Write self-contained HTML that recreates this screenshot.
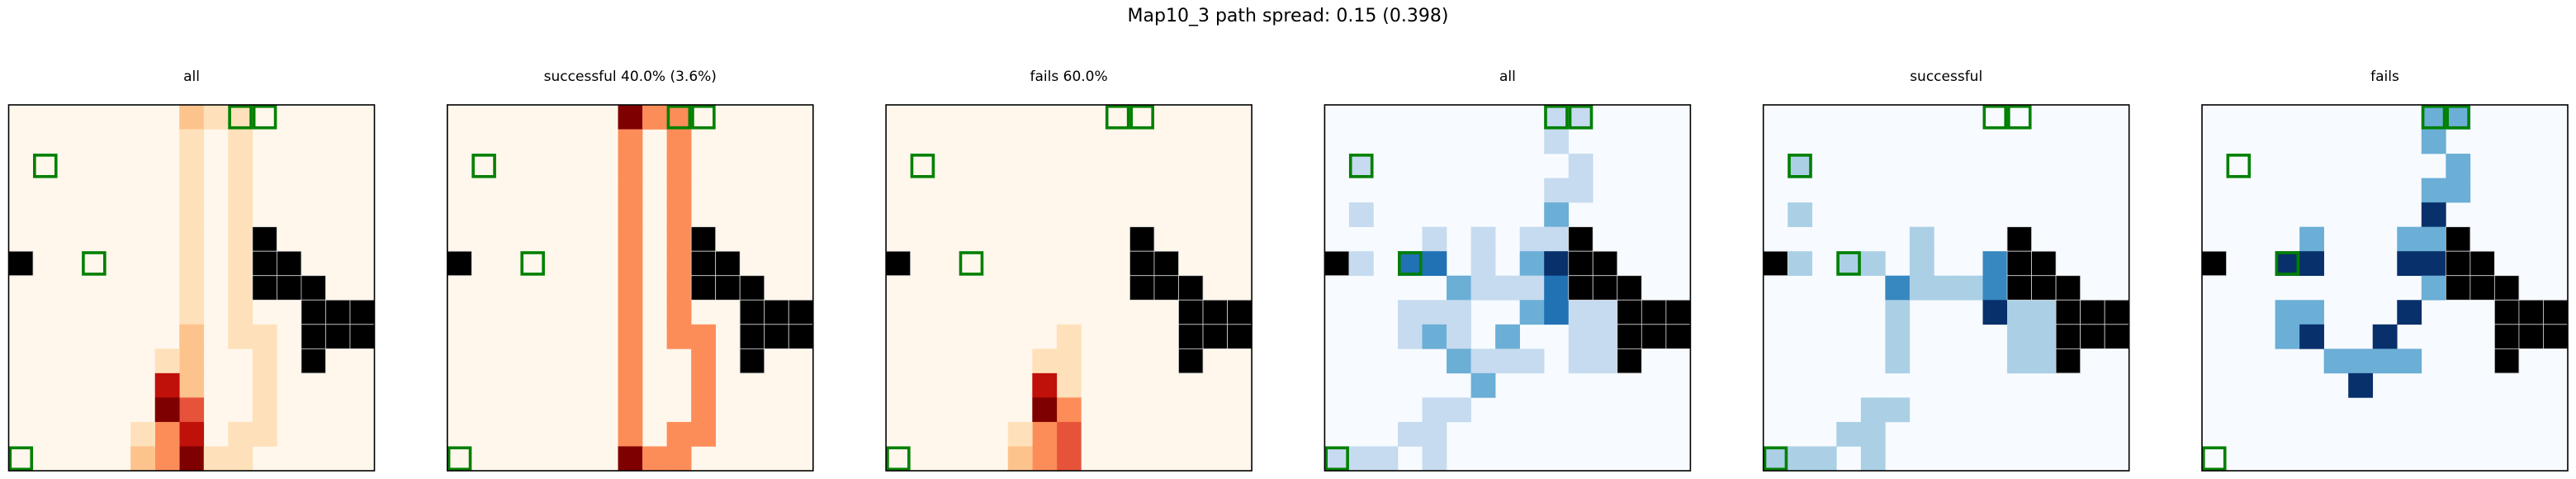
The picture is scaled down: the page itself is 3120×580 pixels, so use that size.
<!DOCTYPE html>
<html><head><meta charset="utf-8"><style>
html,body{margin:0;padding:0;background:#fff;}
svg{display:block;font-family:"DejaVu Sans","Liberation Sans",sans-serif;}
</style></head><body>
<svg id="fig" width="3120" height="580" viewBox="0 0 3120 580">
<text x="1560" y="26" text-anchor="middle" font-size="22" fill="#000">Map10_3 path spread: 0.15 (0.398)</text>
</svg>
<script>
// ---- data ----
const panelTitles = ["all", "successful 40.0% (3.6%)", "fails 60.0%", "all", "successful", "fails"];
const panelCmaps = ["OrRd", "OrRd", "OrRd", "Blues", "Blues", "Blues"];
// sparse visit counts: [row, col, count]
const allOrange = [[0,7,2],[0,8,1],[0,9,1],[1,7,1],[2,7,1],[3,7,1],[4,7,1],[5,7,1],[6,7,1],[7,7,1],[8,7,1],[9,7,2],[10,7,2],[11,7,2],[12,7,4],[13,7,5],[14,7,6],
 [14,8,1],[1,9,1],[2,9,1],[3,9,1],[4,9,1],[5,9,1],[6,9,1],[7,9,1],[8,9,1],[9,9,1],[13,9,1],[14,9,1],
 [9,10,1],[10,10,1],[11,10,1],[12,10,1],[13,10,1],
 [10,6,1],[11,6,5],[12,6,6],[13,6,3],[14,6,3],[13,5,1],[14,5,2]];
const succOrange = [[0,7,2],[0,8,1],[0,9,1],[1,7,1],[2,7,1],[3,7,1],[4,7,1],[5,7,1],[6,7,1],[7,7,1],[8,7,1],[9,7,1],[10,7,1],[11,7,1],[12,7,1],[13,7,1],[14,7,2],
 [14,8,1],[1,9,1],[2,9,1],[3,9,1],[4,9,1],[5,9,1],[6,9,1],[7,9,1],[8,9,1],[9,9,1],[13,9,1],[14,9,1],
 [9,10,1],[10,10,1],[11,10,1],[12,10,1],[13,10,1]];
const failOrange = [[9,7,1],[10,7,1],[11,7,1],[12,7,3],[13,7,4],[14,7,4],[10,6,1],[11,6,5],[12,6,6],[13,6,3],[14,6,3],[13,5,1],[14,5,2]];
const allBlue = [[0,9,1],[0,10,1],[1,9,1],[2,1,1],[2,10,1],[3,9,1],[3,10,1],[4,1,1],[4,9,2],
 [5,4,1],[5,6,1],[5,8,1],[5,9,1],[6,1,1],[6,3,3],[6,4,3],[6,6,1],[6,8,2],[6,9,4],
 [7,5,2],[7,6,1],[7,7,1],[7,8,1],[7,9,3],[8,3,1],[8,4,1],[8,5,1],[8,8,2],[8,9,3],[8,10,1],[8,11,1],
 [9,3,1],[9,4,2],[9,5,1],[9,7,2],[9,10,1],[9,11,1],[10,5,2],[10,6,1],[10,7,1],[10,8,1],[10,10,1],[10,11,1],
 [11,6,2],[12,4,1],[12,5,1],[13,3,1],[13,4,1],[14,0,1],[14,1,1],[14,2,1],[14,4,1]];
const succBlue = [[2,1,1],[4,1,1],[5,6,1],[6,1,1],[6,3,1],[6,4,1],[6,6,1],[6,9,2],
 [7,5,2],[7,6,1],[7,7,1],[7,8,1],[7,9,2],[8,5,1],[8,9,3],[8,10,1],[8,11,1],
 [9,5,1],[9,10,1],[9,11,1],[10,5,1],[10,10,1],[10,11,1],[12,4,1],[12,5,1],[13,3,1],[13,4,1],[14,0,1],[14,1,1],[14,2,1],[14,4,1]];
const failBlue = [[0,9,1],[0,10,1],[1,9,1],[2,10,1],[3,9,1],[3,10,1],[4,9,2],[5,4,1],[5,8,1],[5,9,1],
 [6,3,2],[6,4,2],[6,8,2],[6,9,2],[7,9,1],[8,3,1],[8,4,1],[8,8,2],[9,3,1],[9,4,2],[9,7,2],
 [10,5,1],[10,6,1],[10,7,1],[10,8,1],[11,6,2]];
const panelMax = [6, 2, 6, 4, 3, 2];
const obstacles = [[5,10],[6,0],[6,10],[6,11],[7,10],[7,11],[7,12],[8,12],[8,13],[8,14],[9,12],[9,13],[9,14],[10,12]];
const goals = [[0,9],[0,10],[2,1],[6,3],[14,0]];
const panelData = [allOrange, succOrange, failOrange, allBlue, succBlue, failBlue];

// ---- rendering ----
const NS = "http://www.w3.org/2000/svg";
const svg = document.getElementById("fig");
const N = 15, AX_W = 443, AX_TOP = 127, STEP = 531.3, LEFT0 = 10.5;
const CELL = AX_W / N;
const stops = {
  OrRd: ["#fff7ec","#fee8c8","#fdd49e","#fdbb84","#fc8d59","#ef6548","#d7301f","#b30000","#7f0000"],
  Blues: ["#f7fbff","#deebf7","#c6dbef","#9ecae1","#6baed6","#4292c6","#2171b5","#08519c","#08306b"]
};
function hex(c){return [1,3,5].map(i=>parseInt(c.substr(i,2),16));}
function cmap(name, t){
  const s = stops[name]; t = Math.max(0, Math.min(1, t));
  const p = t * (s.length - 1), i = Math.min(Math.floor(p), s.length - 2), f = p - i;
  const a = hex(s[i]), b = hex(s[i+1]);
  return "rgb(" + a.map((v,k)=>Math.round(v + (b[k]-v)*f)).join(",") + ")";
}
function mk(tag, attrs, parent){
  const e = document.createElementNS(NS, tag);
  for (const k in attrs) e.setAttribute(k, attrs[k]);
  parent.appendChild(e); return e;
}
const xs = (p, c) => LEFT0 + p * STEP + c * CELL;
const ys = r => AX_TOP + r * CELL;

for (let p = 0; p < 6; p++) {
  const g = mk("g", {}, svg);
  
  
  const t = mk("text", {x: xs(p, 7.5), y: 98, "text-anchor": "middle", "font-size": 17, fill: "#000"}, g);
  t.textContent = panelTitles[p];
  
  
  const bg = mk("rect", {x: xs(p, 0), y: ys(0), width: AX_W, height: AX_W, fill: cmap(panelCmaps[p], 0)}, g);
  
  
  for (const [r, c, v] of panelData[p]) {
    const cell = mk("rect", {x: xs(p, c), y: ys(r), width: CELL + 0.3, height: CELL + 0.3, fill: cmap(panelCmaps[p], v / panelMax[p])}, g);
    
    
  }
  for (const [r, c] of obstacles) {
    const o = mk("rect", {x: xs(p, c), y: ys(r), width: CELL, height: CELL, fill: "#000", stroke: "#d4d4d4", "stroke-width": 0.8}, g);
    
    
  }
  for (const [r, c] of goals) {
    const gb = mk("rect", {x: xs(p, c) + 1.8, y: ys(r) + 1.8, width: CELL - 3.6, height: CELL - 3.6, fill: "none", stroke: "#008000", "stroke-width": 3.6}, g);
    
    
  }
  const fr = mk("rect", {x: xs(p, 0), y: ys(0), width: AX_W, height: AX_W, fill: "none", stroke: "#000", "stroke-width": 1.6}, g);
  
  
}
</script>
</body></html>
